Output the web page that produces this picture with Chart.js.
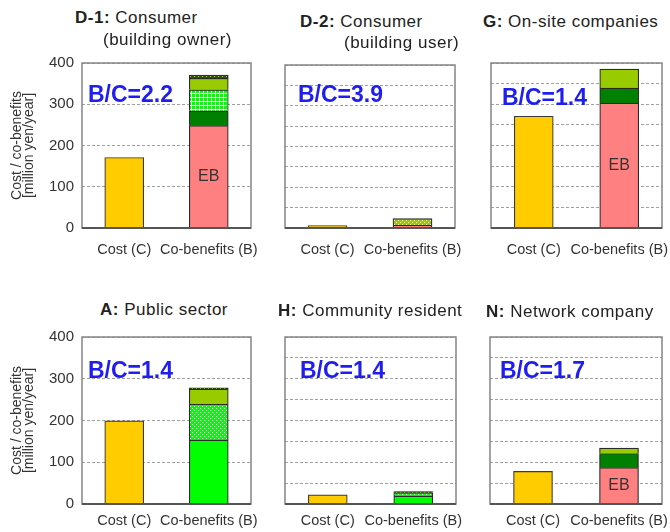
<!DOCTYPE html>
<html>
<head>
<meta charset="UTF-8">
<title>Cost and co-benefits by stakeholder</title>
<script src="https://cdn.jsdelivr.net/npm/chart.js"></script>
<style>
  body { margin: 0; background: #fff; font-family: "Liberation Sans", Arial, sans-serif; }
  #wrap { position: relative; width: 670px; height: 532px; overflow: hidden; }
  .cv { position: absolute; }
  .ttl { position: absolute; font-size: 17px; color: #222; letter-spacing: 0.5px; white-space: nowrap; line-height: 20px; }
  .ttl b { font-weight: bold; }
  .bc { position: absolute; font-size: 23px; font-weight: bold; color: #1e1ef0; white-space: nowrap; line-height: 26px; }
</style>
</head>
<body>
<div id="wrap"></div>
<script>
// panels, read left-to-right, top-to-bottom
const titleBold = ['D-1:', 'D-2:', 'G:', 'A:', 'H:', 'N:'];
const titleText = ['Consumer', 'Consumer', 'On-site companies', 'Public sector', 'Community resident', 'Network company'];
const subTitle = ['(building owner)', '(building user)', '', '', '', ''];
const bcRatio = ['2.2', '3.9', '1.4', '1.4', '1.4', '1.7'];
const categories = ['Cost (C)', 'Co-benefits (B)'];

// million yen / year
const costValues = [171, 6, 271, 199, 22, 78];
const ebValues = [248, 7, 303, 0, 0, 87];
const greenValues = [0, 0, 0, 153, 19, 0];
const darkGreenValues = [36, 0, 36, 0, 0, 34];
const checkGreenValues = [51, 0, 0, 0, 0, 0];
const dotGreenValues = [0, 0, 0, 86, 8, 0];
const yellowGreenValues = [28, 0, 46, 36, 0, 13];
const dotYellowGreenValues = [0, 16, 0, 0, 0, 0];
const darkDotValues = [8, 0, 0, 3, 3, 0];

// layout: canvas box and plot area for every panel
const boxes = [
  { left: 0,   top: 50,  w: 260, h: 215, yw: 82, padR: 9,  padT: 13, xh: 37, showY: true },
  { left: 260, top: 50,  w: 205, h: 215, yw: 25, padR: 10, padT: 15, xh: 37, showY: false },
  { left: 465, top: 50,  w: 205, h: 215, yw: 26, padR: 8,  padT: 13, xh: 37, showY: false },
  { left: 0,   top: 320, w: 260, h: 212, yw: 82, padR: 9,  padT: 17, xh: 28, showY: true },
  { left: 260, top: 320, w: 205, h: 212, yw: 25, padR: 9,  padT: 17, xh: 28, showY: false },
  { left: 465, top: 320, w: 205, h: 212, yw: 25, padR: 8,  padT: 17, xh: 28, showY: false }
];
const titlePos = [
  [75, 18, 103, 40], [300, 22, 344, 43], [483, 22], [100, 310], [278, 311], [486, 312]
];
const bcPos = [[88, 94], [298, 94], [502, 97], [88, 370], [300, 370], [500, 370]];

function makePattern(base, dot, kind) {
  const c = document.createElement('canvas');
  c.width = 4; c.height = 4;
  const g = c.getContext('2d');
  g.fillStyle = base;
  g.fillRect(0, 0, 4, 4);
  g.fillStyle = dot;
  if (kind === 'grid') {
    g.fillRect(3, 0, 1, 4);
    g.fillRect(0, 3, 4, 1);
  } else {
    g.fillRect(0, 0, 1, 1);
    g.fillRect(2, 2, 1, 1);
  }
  return g.createPattern(c, 'repeat');
}

const segments = [
  { label: 'EB', values: ebValues, color: '#ff8080' },
  { label: 'green', values: greenValues, color: '#00ff00' },
  { label: 'dark green', values: darkGreenValues, color: '#008000' },
  { label: 'checked green', values: checkGreenValues, color: makePattern('#00ff00', '#ffffff', 'grid') },
  { label: 'dotted green', values: dotGreenValues, color: makePattern('#00ff00', '#ffffff', 'dot') },
  { label: 'yellow green', values: yellowGreenValues, color: '#99cc00' },
  { label: 'dotted yellow green', values: dotYellowGreenValues, color: makePattern('#99cc00', '#ffffff', 'dot') },
  { label: 'dark dotted', values: darkDotValues, color: makePattern('#2e5a00', '#a0c080', 'dot') }
];

const framePlugin = {
  id: 'frame',
  afterDraw(chart) {
    const a = chart.chartArea, ctx = chart.ctx;
    ctx.save();
    ctx.strokeStyle = '#858585';
    ctx.lineWidth = 1.5;
    ctx.strokeRect(a.left, a.top, a.right - a.left, a.bottom - a.top);
    ctx.strokeStyle = '#555';
    ctx.lineWidth = 2;
    ctx.beginPath();
    ctx.moveTo(a.left, a.bottom);
    ctx.lineTo(a.right, a.bottom);
    ctx.stroke();
    ctx.restore();
  }
};

const ebLabelPlugin = {
  id: 'ebLabel',
  afterDatasetsDraw(chart) {
    const idx = chart.data.datasets.findIndex(d => d.label === 'EB');
    if (idx < 0) return;
    const bar = chart.getDatasetMeta(idx).data[1];
    if (!bar || Math.abs(bar.base - bar.y) < 20) return;
    const ctx = chart.ctx;
    ctx.save();
    ctx.font = '16px "Liberation Sans", Arial, sans-serif';
    ctx.fillStyle = '#333';
    ctx.textAlign = 'center';
    ctx.textBaseline = 'middle';
    ctx.fillText('EB', bar.x, (bar.y + bar.base) / 2);
    ctx.restore();
  }
};

const wrap = document.getElementById('wrap');

boxes.forEach((b, p) => {
  const cv = document.createElement('canvas');
  cv.className = 'cv';
  cv.width = b.w; cv.height = b.h;
  cv.style.left = b.left + 'px';
  cv.style.top = b.top + 'px';
  cv.style.width = b.w + 'px';
  cv.style.height = b.h + 'px';
  wrap.appendChild(cv);

  const datasets = [{
    label: 'Cost',
    data: [costValues[p], null],
    backgroundColor: '#ffcc00',
    borderColor: '#3a3a3a',
    borderWidth: 1.2,
    barThickness: 39
  }];
  segments.forEach(s => {
    if (!s.values[p]) return;
    datasets.push({
      label: s.label,
      data: [null, s.values[p]],
      backgroundColor: s.color,
      borderColor: '#2a2a2a',
      borderWidth: 1.2,
      barThickness: 39
    });
  });

  new Chart(cv, {
    type: 'bar',
    data: { labels: categories, datasets: datasets },
    options: {
      responsive: false,
      animation: false,
      layout: { padding: { left: 0, right: b.padR, top: b.padT, bottom: 0 } },
      plugins: { legend: { display: false }, tooltip: { enabled: false } },
      scales: {
        x: {
          stacked: true,
          grid: { display: false, drawTicks: false },
          border: { display: false },
          ticks: {
            padding: p < 3 ? 13 : 8,
            color: '#333',
            maxRotation: 0,
            autoSkip: false,
            font: { family: '"Liberation Sans", Arial, sans-serif', size: 14.5 }
          },
          afterFit(scale) {
            scale.height = b.xh;
            scale.paddingLeft = 0;
            scale.paddingRight = 0;
          }
        },
        y: {
          stacked: true,
          min: 0,
          max: 400,
          grid: { color: '#a0a0a0', lineWidth: 1, drawTicks: false },
          border: { display: false, dash: [3, 2] },
          ticks: {
            display: b.showY,
            stepSize: 50,
            padding: 8,
            color: '#333',
            font: { family: '"Liberation Sans", Arial, sans-serif', size: 15 },
            callback: v => (v % 100 === 0 ? v : '')
          },
          title: {
            display: b.showY,
            text: ['Cost / co-benefits', '[million yen/year]'],
            color: '#333',
            padding: { top: 12, bottom: 0 },
            font: { family: '"Liberation Sans", Arial, sans-serif', size: 14, lineHeight: 0.8 }
          },
          afterFit(scale) {
            scale.width = b.yw;
            scale.paddingTop = 0;
            scale.paddingBottom = 0;
          }
        }
      }
    },
    plugins: [framePlugin, ebLabelPlugin]
  });

  // titles
  const tp = titlePos[p];
  const t1 = document.createElement('div');
  t1.className = 'ttl';
  t1.innerHTML = '<b>' + titleBold[p] + '</b> ' + titleText[p];
  t1.style.left = tp[0] + 'px';
  t1.style.top = (tp[1] - 10) + 'px';
  wrap.appendChild(t1);
  if (subTitle[p]) {
    const t2 = document.createElement('div');
    t2.className = 'ttl';
    t2.textContent = subTitle[p];
    t2.style.left = tp[2] + 'px';
    t2.style.top = (tp[3] - 10) + 'px';
    wrap.appendChild(t2);
  }

  const bc = document.createElement('div');
  bc.className = 'bc';
  bc.textContent = 'B/C=' + bcRatio[p];
  bc.style.left = bcPos[p][0] + 'px';
  bc.style.top = (bcPos[p][1] - 13) + 'px';
  wrap.appendChild(bc);
});
</script>
</body>
</html>
